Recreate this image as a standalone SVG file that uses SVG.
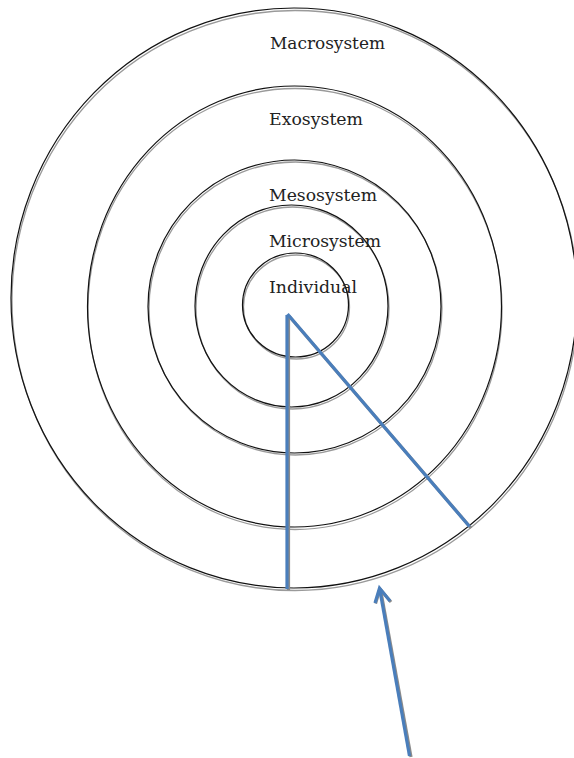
<svg xmlns="http://www.w3.org/2000/svg" width="574" height="758" viewBox="0 0 574 758">
<style>
.ring{fill:none;stroke:#111;stroke-width:1.2}
.sh{fill:none;stroke:#9a9a9a;stroke-width:1.3}
.blue{stroke:#4a7ebb;stroke-width:3.2;fill:none;stroke-linecap:butt}
.bsh{stroke:#8a8a8a;stroke-width:3.2;fill:none}
.lbl{font-family:"DejaVu Serif","Liberation Serif",serif;font-size:17px;fill:#222}
</style>
<rect width="574" height="758" fill="#fff"/>
<g id="macrosystem">
<ellipse class="sh" cx="295" cy="300.5" rx="283" ry="290"/>
<ellipse class="ring" cx="294" cy="298" rx="283" ry="290"/>
<text class="lbl" x="270" y="49" textLength="115" lengthAdjust="spacingAndGlyphs">Macrosystem</text>
</g>
<g id="exosystem">
<ellipse class="sh" cx="295" cy="309" rx="207" ry="220.5"/>
<ellipse class="ring" cx="294.5" cy="306.5" rx="207" ry="220.5"/>
<text class="lbl" x="269" y="125" textLength="94" lengthAdjust="spacingAndGlyphs">Exosystem</text>
</g>
<g id="mesosystem">
<ellipse class="sh" cx="295.5" cy="308.5" rx="146.5" ry="146.5"/>
<ellipse class="ring" cx="294.5" cy="306.5" rx="146.5" ry="146.5"/>
<text class="lbl" x="269" y="201" textLength="108" lengthAdjust="spacingAndGlyphs">Mesosystem</text>
</g>
<g id="microsystem">
<ellipse class="sh" cx="292.5" cy="308" rx="96.5" ry="101"/>
<ellipse class="ring" cx="291.5" cy="306" rx="96.5" ry="101"/>
<text class="lbl" x="269" y="247" textLength="112" lengthAdjust="spacingAndGlyphs">Microsystem</text>
</g>
<g id="individual">
<ellipse class="sh" cx="296.5" cy="307" rx="53" ry="52"/>
<ellipse class="ring" cx="295.5" cy="305" rx="53" ry="52"/>
<text class="lbl" x="269" y="293" textLength="88" lengthAdjust="spacingAndGlyphs">Individual</text>
</g>
<g id="connectors">
<line class="bsh" x1="288.5" y1="316" x2="288.5" y2="590"/>
<line class="bsh" x1="289" y1="316" x2="471" y2="528"/>
<line class="blue" x1="287" y1="315" x2="287" y2="589"/>
<line class="blue" x1="287.5" y1="314" x2="469.5" y2="526.5"/>
<line class="bsh" x1="411" y1="757" x2="381" y2="592"/>
<polyline class="bsh" points="375.5,603.5 380,589 391,602" stroke-linejoin="miter"/>
<line class="blue" x1="409.5" y1="756" x2="380" y2="591"/>
<polyline class="blue" points="375,603 379.5,588 390,601" stroke-linejoin="miter"/>
</g>
</svg>
